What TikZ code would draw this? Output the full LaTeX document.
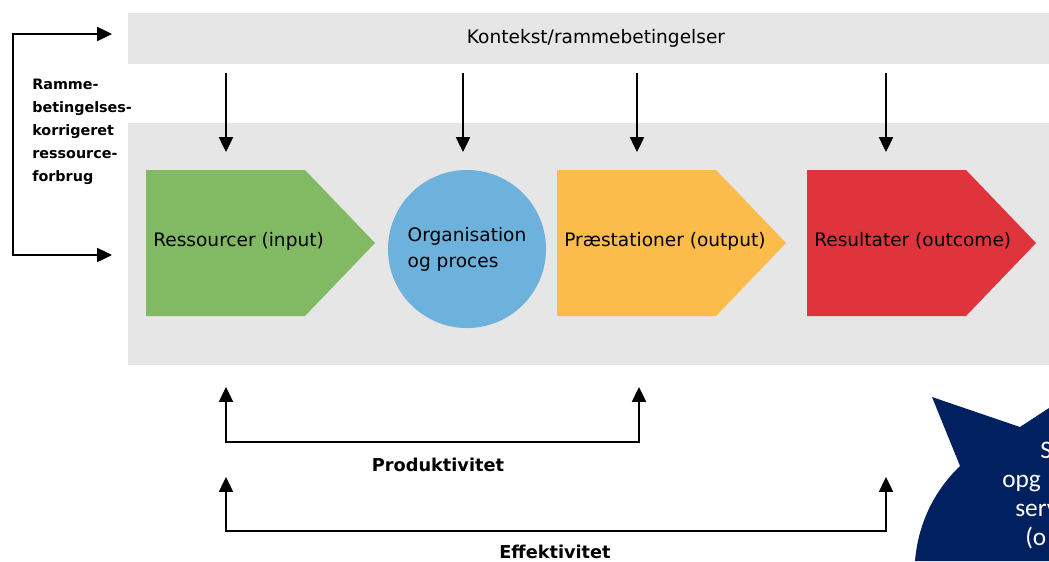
\documentclass[tikz,border=0pt]{standalone}
\usepackage{xcolor}
\usepackage{fontspec}
\setmainfont{DejaVu Sans}
\newfontfamily\calloutfont{Carlito}
\usetikzlibrary{positioning,arrows.meta}

\definecolor{bandgray}{RGB}{230,230,230}
\definecolor{resgreen}{RGB}{130,186,100}
\definecolor{orgblue}{RGB}{108,178,220}
\definecolor{outorange}{RGB}{251,188,76}
\definecolor{outcred}{RGB}{224,52,60}
\definecolor{navy}{RGB}{0,32,96}

\begin{document}
\begin{tikzpicture}[x=0.025cm, y=-0.025cm,
  font=\fontsize{13.2}{18.5}\selectfont,
  arr/.style={-{Triangle[length=10.5pt,width=10pt]}, line width=1pt},
  twoarr/.style={{Triangle[length=10.5pt,width=10pt]}-{Triangle[length=10.5pt,width=10pt]}, line width=1pt},
  lbl/.style={anchor=west, inner sep=0pt},
  kpi/.style={font=\fontsize{12.6}{15}\selectfont\bfseries, inner sep=0pt},
  cloudtxt/.style={font=\calloutfont\fontsize{18}{21}\selectfont, text=white, anchor=base west, inner sep=0pt}]

  \useasboundingbox (0,0) rectangle (1049,561);

  % Grey bands
  \fill[bandgray] (128,13) rectangle (1049,64);
  \fill[bandgray] (128,123) rectangle (1049,365);
  \node (ctx) at (596,38) {Kontekst/rammebetingelser};

  % Loop on the left side
  \coordinate (ctxin) at (112,34);
  \coordinate (resin) at (112,255);
  \draw[twoarr] (ctxin) -- (13,34) -- (13,255) -- (resin);
  \node[font=\fontsize{10.2}{16.4}\selectfont\bfseries, align=left, anchor=north west, inner sep=0pt]
    (korr) at (32,79) {Ramme-\\betingelses-\\korrigeret\\ressource-\\forbrug};

  % Arrows from the context down
  \foreach \x [count=\i] in {226,463,637,886} {
    \coordinate (down\i) at (\x,73);
    \coordinate (into\i) at (\x,152);
    \draw[arr] (down\i) -- (into\i);
  }

  % Chain of steps
  \foreach \x/\col/\name/\text in {
    146/resgreen/res/{Ressourcer (input)},
    557/outorange/out/{Præstationer (output)},
    807/outcred/outc/{Resultater (outcome)}} {
    \fill[\col] (\x,170) -- ++(159,0) -- ++(70,73) -- ++(-70,73) -- ++(-159,0) -- cycle;
    \node[lbl] (\name) at (\x+7,241) {\text};
  }
  \node[circle, fill=orgblue, minimum size=3.95cm, align=left] (org) at (467,249)
    {Organisation\\og proces};

  % Productivity and efficiency
  \coordinate (prodL) at (226,387);
  \coordinate (prodR) at (639,387);
  \draw[twoarr] (prodL) -- (226,442) -- (639,442) -- (prodR);
  \node[kpi] (prod) at (438,465) {Produktivitet};

  \coordinate (effL) at (226,477);
  \coordinate (effR) at (886,477);
  \draw[twoarr] (effL) -- (226,531) -- (886,531) -- (effR);
  \node[kpi] (eff) at (555,552) {Effektivitet};

  % Callout, cut by the edge
  \fill[navy] (1049,408) -- (1020,427) -- (932,397) -- (960,466)
    .. controls (933,492) and (918,525) .. (915,561) -- (1049,561) -- cycle;
  \node[cloudtxt] (c1) at (1040,458) {S};
  \node[cloudtxt] (c2) at (1002,487) {opg};
  \node[cloudtxt] (c3) at (1015,516) {serv};
  \node[cloudtxt] (c4) at (1025,545) {(o};

\end{tikzpicture}
\end{document}
